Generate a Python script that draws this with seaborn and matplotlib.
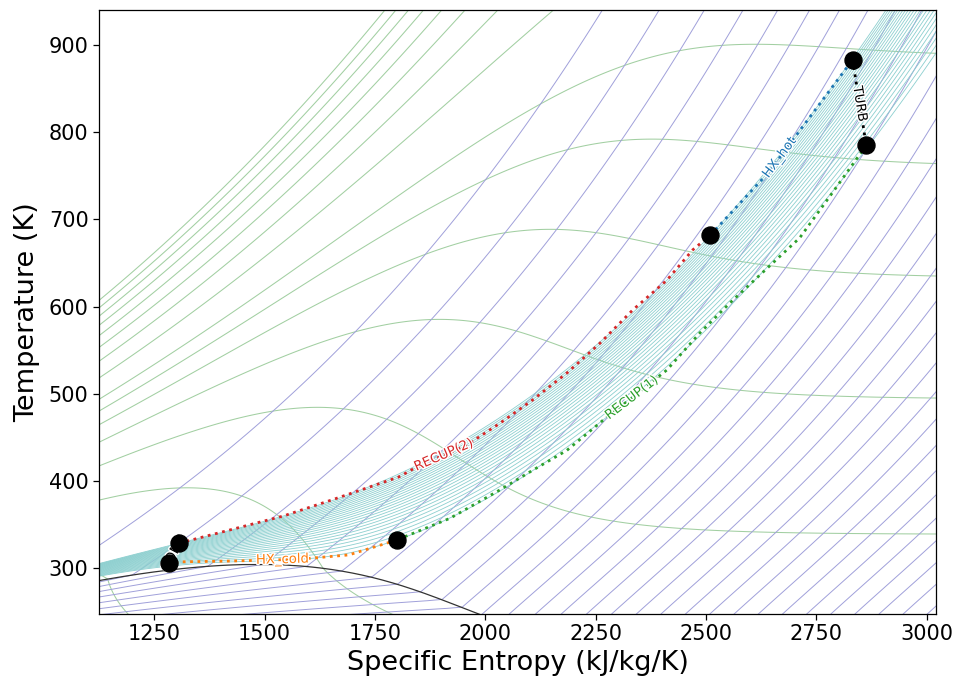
import numpy as np
import pandas as pd
import matplotlib
matplotlib.use("Agg")
import matplotlib.pyplot as plt
import matplotlib.patheffects as pe
import seaborn as sns

# ---------------- cycle data ----------------
state_s = [1283, 1307, 2510, 2832, 2863, 1799]
state_T = [305.4, 328.5, 682, 883, 785, 332]

comp_s = [1283, 1307]
comp_T = [305.4, 328.5]
recup2_s = [1307, 1543, 1652, 1804, 1845, 1958, 2033, 2107, 2185, 2260, 2334, 2411, 2470, 2510]
recup2_T = [328.5, 359.7, 378, 404.4, 416, 441, 466, 492.7, 523.7, 558, 596, 630, 665, 682]
hxhot_s = [2510, 2642, 2717, 2832]
hxhot_T = [682, 754, 805, 883]
turb_s = [2832, 2863]
turb_T = [883, 785]
recup1_s = [2863, 2787, 2712, 2554, 2486, 2411, 2334, 2275, 2185, 2107, 2033, 1920, 1799]
recup1_T = [785, 731, 678.6, 604, 569.6, 527, 496, 473, 435, 412, 389.5, 357, 332]
hxcold_s = [1799, 1691, 1578, 1426, 1306, 1283]
hxcold_T = [332, 315, 310, 308, 307, 305.4]

seg_names = ["COMP", "RECUP(2)", "HX_hot", "TURB", "RECUP(1)", "HX_cold"]
seg_colors = ["black", "tab:red", "tab:blue", "black", "tab:green", "tab:orange"]
seg_label_s = [1295, 1906, 2667, 2848, 2332, 1541]

# background isoline anchors (s, T)
isobar_low_pt = (1799, 332)
isobar_high_pt = (2510, 682)
n_isobars = 25
isochore_pt_a = (1995, 248)
isochore_pt_b = (3003, 248)
isochore_gaps = 18
isochore_densest_pt = (1487, 493)
isenthalp_edge_s = 3021
isenthalp_edge_T = [339, 495, 635, 764, 890.5]
isenthalp_top_pt = (1125, 607)
n_isenthalp_top = 8

xlim = (1125, 3021)
ylim = (247.2, 940.2)

# ---------------- simple Peng-Robinson model of CO2 for the property mesh ----------------
Rg = 8.314462618 / 0.0440098
Tc, Pc, om = 304.1282, 7.3773e6, 0.22394
ac = 0.45724 * Rg**2 * Tc**2 / Pc
bb = 0.07780 * Rg * Tc / Pc
kap = 0.37464 + 1.54226 * om - 0.26992 * om**2
r2 = np.sqrt(2.0)
A0, B0, D0 = 5.457, 1.045e-3, -1.157e5


def a_of(T):
    return ac * (1 + kap * (1 - np.sqrt(T / Tc)))**2


def da_of(T):
    return -ac * kap * (1 + kap * (1 - np.sqrt(T / Tc))) / np.sqrt(T * Tc)


def Lterm(v):
    return np.log((v + (1 + r2) * bb) / (v + (1 - r2) * bb))


def p_raw(T, v):
    return Rg * T / (v - bb) - a_of(T) / (v * v + 2 * bb * v - bb * bb)


def s_raw(T, v):
    sig = Rg * ((A0 - 1) * np.log(T) + B0 * T - D0 / (2 * T**2)) + Rg * np.log(v)
    return sig + Rg * np.log((v - bb) / v) + da_of(T) / (2 * r2 * bb) * Lterm(v)


def h_raw(T, v):
    uig = Rg * ((A0 - 1) * T + B0 * T**2 / 2 - D0 / T)
    return uig + (T * da_of(T) - a_of(T)) / (2 * r2 * bb) * Lterm(v) + p_raw(T, v) * v


def cubic_Z(T, p):
    A = a_of(T) * p / (Rg * T)**2
    B = bb * p / (Rg * T)
    rts = np.roots([1.0, -(1 - B), A - 3 * B * B - 2 * B, -(A * B - B * B - B**3)])
    re = np.sort(rts[np.abs(rts.imag) < 1e-7].real)
    return re[re > B], A, B


def lnphi(Z, A, B):
    return Z - 1 - np.log(Z - B) - A / (2 * r2 * B) * np.log((Z + (1 + r2) * B) / (Z + (1 - r2) * B))


Tsat = np.linspace(225.0, 303.9, 140)
vls, vgs, pss = [], [], []
for T in Tsat:
    p = Pc * np.exp(5.373 * (1 + om) * (1 - Tc / T))
    for it in range(200):
        re, A, B = cubic_Z(T, p)
        if len(re) < 2 or re[-1] - re[0] < 1e-9:
            p *= 0.99 if re[0] < 0.307 else 1.01
            continue
        Zl, Zv = re[0], re[-1]
        d = lnphi(Zl, A, B) - lnphi(Zv, A, B)
        step = np.clip(d / (Zv - Zl), -0.1, 0.1)
        p *= np.exp(step)
        if abs(d) < 1e-12:
            break
    re, A, B = cubic_Z(T, p)
    vls.append(re[0] * Rg * T / p)
    vgs.append(re[-1] * Rg * T / p)
    pss.append(p)
vls, vgs, pss = map(np.array, (vls, vgs, pss))
sls, sgs = s_raw(Tsat, vls), s_raw(Tsat, vgs)
hls, hgs = h_raw(Tsat, vls), h_raw(Tsat, vgs)
s_off = 1000.0 - np.interp(273.15, Tsat, sls)
h_off = 200e3 - np.interp(273.15, Tsat, hls)


def props(T, v):
    T, v = np.broadcast_arrays(np.asarray(T, float), np.asarray(v, float))
    s, h, p = s_raw(T, v), h_raw(T, v), p_raw(T, v)
    vl, vg = np.interp(T, Tsat, vls), np.interp(T, Tsat, vgs)
    sl, sg = np.interp(T, Tsat, sls), np.interp(T, Tsat, sgs)
    hl, hg = np.interp(T, Tsat, hls), np.interp(T, Tsat, hgs)
    ps = np.interp(T, Tsat, pss)
    m = (T < Tsat[-1]) & (v > vl) & (v < vg)
    x = np.clip((v - vl) / (vg - vl), 0, 1)
    s = np.where(m, sl + x * (sg - sl), s)
    h = np.where(m, hl + x * (hg - hl), h)
    p = np.where(m, ps, p)
    return s + s_off, h + h_off, p


v_fine = bb + np.geomspace(bb * 1e-4, 60, 30000)


def state_at(s_t, T):
    s, h, p = props(T, v_fine)
    lv = np.interp(s_t, s, np.log(v_fine))
    v = np.exp(lv)
    s1, h1, p1 = props(T, v)
    return v, float(h1), float(p1)


T_grid = np.linspace(236.0, 1000.0, 520)
v_grid = bb + np.geomspace(bb * 3e-4, 40, 1300)
TT, VV = np.meshgrid(T_grid, v_grid, indexing="ij")
SS, HH, PP = props(TT, VV)
LRHO = -np.log(VV)

# levels from anchors
_, _, p_lo = state_at(*isobar_low_pt)
_, _, p_hi = state_at(*isobar_high_pt)
isobar_levels = np.linspace(p_lo, p_hi, n_isobars)

va, _, _ = state_at(*isochore_pt_a)
vb, _, _ = state_at(*isochore_pt_b)
vd, _, _ = state_at(*isochore_densest_pt)
lr_a, lr_b, lr_d = -np.log(va), -np.log(vb), -np.log(vd)
dlr = (lr_a - lr_b) / isochore_gaps
k_max = int(np.floor((lr_d - lr_b) / dlr + 1e-3))
isochore_levels = lr_b + dlr * np.arange(-20, k_max + 1)

h_edge = np.array([state_at(isenthalp_edge_s, T)[1] for T in isenthalp_edge_T])
dh = np.mean(np.diff(h_edge))
h_top = state_at(*isenthalp_top_pt)[1]
isenthalp_levels = np.concatenate([h_edge[0] - dh * np.arange(3, 0, -1), h_edge,
                                   np.linspace(h_edge[-1], h_top, n_isenthalp_top + 1)[1:]])

# ---------------- figure ----------------
sns.set_style("ticks")
plt.rcParams["font.family"] = ["DejaVu Sans"]
fig = plt.figure(figsize=(9.58, 6.79), dpi=100)
ax = fig.add_axes([99 / 958, 1 - 614 / 679, (936 - 99) / 958, (614 - 10) / 679])
ax.set_xlim(*xlim)
ax.set_ylim(*ylim)

ax.contour(SS, TT, HH, levels=isenthalp_levels, colors="#a2cfa2", linewidths=0.75,
           linestyles="solid", zorder=1)
ax.contour(SS, TT, LRHO, levels=isochore_levels, colors="#a0a0da", linewidths=0.7,
           linestyles="solid", zorder=1)
ax.contour(SS, TT, PP, levels=isobar_levels, colors="#8ccfcf", linewidths=0.6,
           linestyles="solid", zorder=1)

dome_s = np.concatenate([sls, sgs[::-1]]) + s_off
dome_T = np.concatenate([Tsat, Tsat[::-1]])
ax.plot(dome_s, dome_T, color="#333333", lw=0.9, zorder=2)

segments = [(comp_s, comp_T), (recup2_s, recup2_T), (hxhot_s, hxhot_T),
            (turb_s, turb_T), (recup1_s, recup1_T), (hxcold_s, hxcold_T)]
for (xs, ys), name, col in zip(segments, seg_names, seg_colors):
    df = pd.DataFrame({"s": xs, "T": ys})
    sns.lineplot(data=df, x="s", y="T", sort=False, estimator=None, ax=ax,
                 color=col, lw=2.0, linestyle=":", zorder=3)

for (xs, ys), name, col, sl in zip(segments, seg_names, seg_colors, seg_label_s):
    xs_a, ys_a = np.asarray(xs, float), np.asarray(ys, float)
    order = np.argsort(xs_a)
    ty = np.interp(sl, xs_a[order], ys_a[order])
    d = ax.transData.transform(np.column_stack([xs_a[order], ys_a[order]]))
    i = int(np.clip(np.searchsorted(xs_a[order], sl), 1, len(xs_a) - 1))
    dx, dy = d[i] - d[i - 1]
    ang = np.degrees(np.arctan2(dy, dx))
    if ang > 90:
        ang -= 180
    if ang < -90:
        ang += 180
    ax.text(sl, ty, name, color=col, fontsize=9.5, rotation=ang, rotation_mode="anchor",
            ha="center", va="center", zorder=4,
            path_effects=[pe.withStroke(linewidth=2, foreground="white")])

sns.scatterplot(x=state_s, y=state_T, ax=ax, color="black", s=150, edgecolor="black",
                zorder=5, legend=False)

ax.set_xticks([1250, 1500, 1750, 2000, 2250, 2500, 2750, 3000])
ax.set_yticks([300, 400, 500, 600, 700, 800, 900])
ax.tick_params(labelsize=15, length=4, width=0.9, colors="black")
ax.set_xlabel("Specific Entropy (kJ/kg/K)", fontsize=19.5, labelpad=4, color="black")
ax.set_ylabel("Temperature (K)", fontsize=19.5, labelpad=6, color="black")
for sp in ax.spines.values():
    sp.set_color("black")
    sp.set_linewidth(0.9)
ax.set_xlim(*xlim)
ax.set_ylim(*ylim)
fig.savefig("out.png", dpi=100)
